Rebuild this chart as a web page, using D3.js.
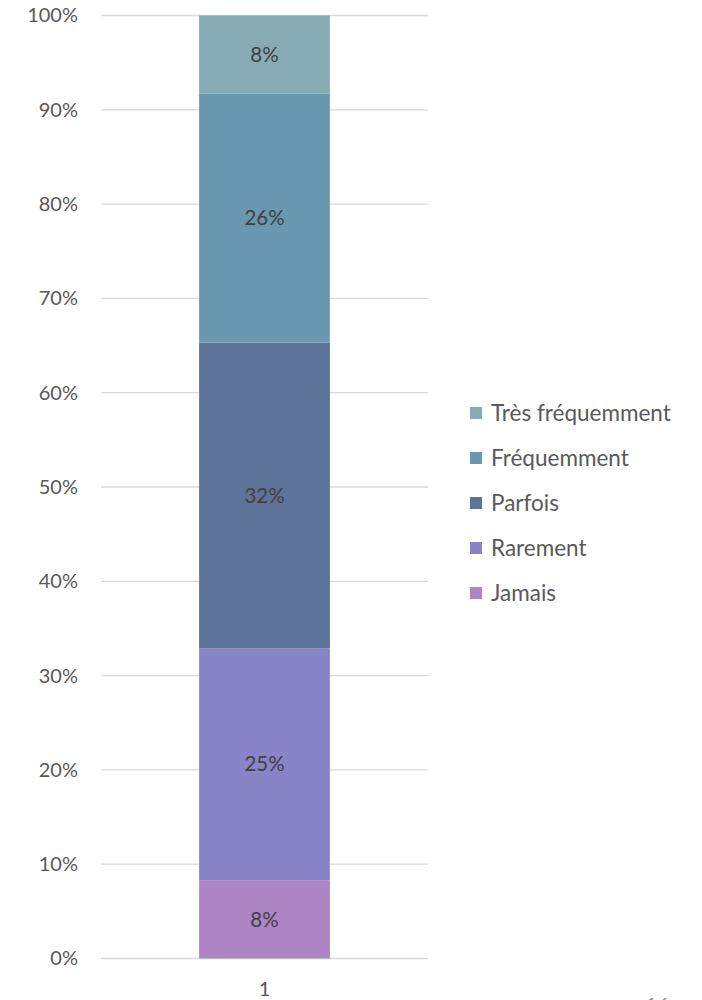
<!DOCTYPE html>
<html>
<head>
<meta charset="utf-8">
<script src="https://cdn.jsdelivr.net/npm/d3@7"></script>
<style>
  html, body { margin: 0; padding: 0; background: #fff; }
  svg { display: block; font-family: Lato, "Open Sans", sans-serif; }
</style>
</head>
<body>
<svg id="chart" width="702" height="1000"></svg>
<script>
// Response categories, bottom to top of the stack
const categories = ["Jamais", "Rarement", "Parfois", "Fréquemment", "Très fréquemment"];
// Share of answers for each category (single bar "1")
const shares = [0.083, 0.246, 0.324, 0.264, 0.083];
const colors = ["#ae85c4", "#8884c7", "#5e7399", "#6998b0", "#86abb4"];
const barLabels = ["1"];
const yTicks = [0, 0.1, 0.2, 0.3, 0.4, 0.5, 0.6, 0.7, 0.8, 0.9, 1.0];

const svg = d3.select("#chart");
const textColor = "#595959";
const axisFs = 20;
const labelFs = 20.5;
const legendFs = 22.5;

const plot = { left: 101, right: 428, top: 15.5, bottom: 958.5 };

const x = d3.scaleBand().domain(barLabels).range([plot.left, plot.right]).paddingInner(0.6).paddingOuter(0.3);
const y = d3.scaleLinear().domain([0, 1]).range([plot.bottom, plot.top]);

// Gridlines
svg.append("g")
  .selectAll("line")
  .data(yTicks)
  .join("line")
  .attr("x1", plot.left).attr("x2", plot.right)
  .attr("y1", d => y(d)).attr("y2", d => y(d))
  .attr("stroke", "#d9d9d9").attr("stroke-width", 1.3);

// Y axis labels
const yAxis = d3.axisLeft(y).tickValues(yTicks).tickFormat(d3.format(".0%")).tickSize(0).tickPadding(0);
const yG = svg.append("g").attr("transform", `translate(${plot.left - 23},0)`).call(yAxis);
yG.select(".domain").remove();
yG.selectAll("text").attr("fill", textColor).style("font-size", axisFs + "px").style("font-family", "Lato, 'Open Sans', sans-serif");

// Stack the segments
const row = {};
categories.forEach((c, i) => row[c] = shares[i]);
const stacked = d3.stack().keys(categories)([row]);

const segs = svg.append("g");
stacked.forEach((layer, i) => {
  const d = layer[0];
  segs.append("rect")
    .attr("x", x("1"))
    .attr("width", x.bandwidth())
    .attr("y", y(d[1]))
    .attr("height", y(d[0]) - y(d[1]))
    .attr("fill", colors[i]);
  segs.append("text")
    .attr("x", x("1") + x.bandwidth() / 2)
    .attr("y", (y(d[0]) + y(d[1])) / 2)
    .attr("dy", "0.35em")
    .attr("text-anchor", "middle")
    .attr("fill", "#404040")
    .style("font-size", labelFs + "px")
    .text(d3.format(".0%")(shares[i]));
});

// X axis label
svg.append("text")
  .attr("x", x("1") + x.bandwidth() / 2)
  .attr("y", 996)
  .attr("text-anchor", "middle")
  .attr("fill", textColor)
  .style("font-size", axisFs + "px")
  .text(barLabels[0]);

// Legend, top entry is the top segment
const legendItems = categories.map((c, i) => ({ c, color: colors[i] })).reverse();
const lg = svg.append("g").attr("transform", "translate(470,413)");
legendItems.forEach((it, i) => {
  const g = lg.append("g").attr("transform", `translate(0,${i * 45})`);
  g.append("rect").attr("x", 0).attr("y", -6).attr("width", 12).attr("height", 12).attr("fill", it.color);
  g.append("text").attr("x", 21).attr("y", 0).attr("dy", "0.35em")
    .attr("fill", textColor).style("font-size", legendFs + "px").text(it.c);
});

// Page number, partly outside the page
svg.append("text")
  .attr("x", 644).attr("y", 1013)
  .attr("fill", "#8c8c8c")
  .style("font-size", "21px")
  .style("font-style", "italic")
  .text("16");
</script>
</body>
</html>
